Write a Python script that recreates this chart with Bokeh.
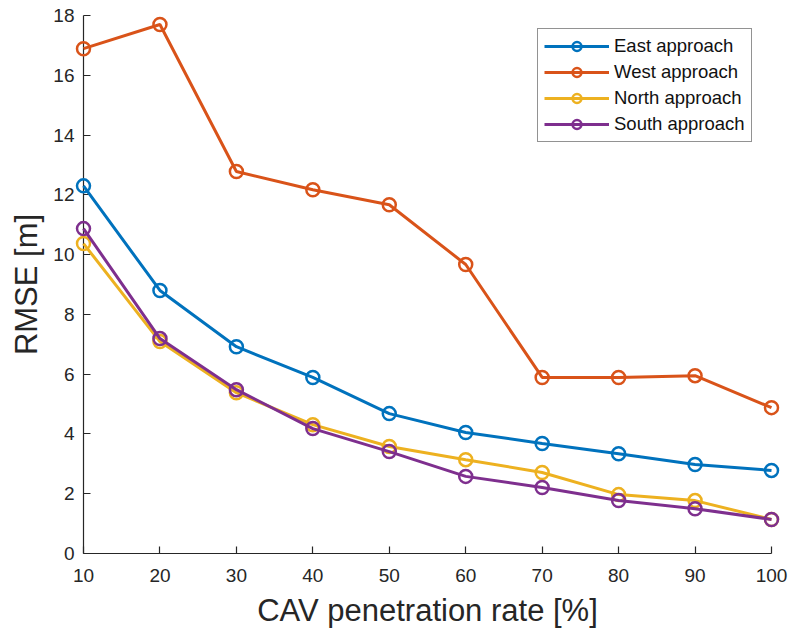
from bokeh.plotting import figure
from bokeh.models import Range1d, Legend, LegendItem, FixedTicker
from bokeh.embed import file_html
from bokeh.resources import INLINE

rate = [10, 20, 30, 40, 50, 60, 70, 80, 90, 100]
east = [12.3, 8.8, 6.92, 5.89, 4.68, 4.05, 3.68, 3.34, 2.98, 2.78]
west = [16.89, 17.7, 12.78, 12.17, 11.67, 9.67, 5.89, 5.89, 5.95, 4.88]
north = [10.37, 7.09, 5.38, 4.31, 3.58, 3.14, 2.71, 1.97, 1.77, 1.14]
south = [10.87, 7.19, 5.48, 4.18, 3.41, 2.58, 2.21, 1.77, 1.50, 1.14]
series = [("East approach", east, "#0072BD"),
          ("West approach", west, "#D95319"),
          ("North approach", north, "#EDB120"),
          ("South approach", south, "#7E2F8E")]
x_ticks = [10, 20, 30, 40, 50, 60, 70, 80, 90, 100]
y_ticks = [0, 2, 4, 6, 8, 10, 12, 14, 16, 18]

FONT = "Liberation Sans"
AX = "#262626"

p = figure(width=793, height=634, output_backend="svg", toolbar_location=None,
           x_range=Range1d(10, 100), y_range=Range1d(0, 18))
p.min_border_left = 83
p.min_border_right = 22
p.min_border_top = 15
p.min_border_bottom = 81
p.outline_line_color = None
p.grid.visible = False
p.background_fill_color = "white"

for ax, ticks, label in [(p.xaxis[0], x_ticks, "CAV penetration rate [%]"),
                         (p.yaxis[0], y_ticks, "RMSE [m]")]:
    ax.ticker = FixedTicker(ticks=ticks)
    ax.axis_label = label
    ax.axis_label_text_font = FONT
    ax.axis_label_text_font_size = "31px"
    ax.axis_label_text_font_style = "normal"
    ax.axis_label_text_color = AX
    ax.major_label_text_font = FONT
    ax.major_label_text_font_size = "19px"
    ax.major_label_text_color = AX
    ax.axis_line_color = AX
    ax.axis_line_width = 1.2
    ax.major_tick_line_color = AX
    ax.major_tick_line_width = 1.2
    ax.major_tick_in = 7
    ax.major_tick_out = 0
    ax.minor_tick_line_color = None

p.xaxis[0].major_label_standoff = 15
p.xaxis[0].axis_label_standoff = 8
p.yaxis[0].major_label_standoff = 9
p.yaxis[0].axis_label_standoff = 6

items = []
for name, vals, color in series:
    r1 = p.line(rate, vals, line_color=color, line_width=3, level="overlay")
    r2 = p.scatter(rate, vals, marker="circle", size=13, line_color=color,
                   line_width=2.5, fill_color=None, level="overlay")
    items.append(LegendItem(label=name, renderers=[r1, r2]))

legend = Legend(items=items, location=(454, 411))
legend.label_text_font = FONT
legend.label_text_font_size = "18.5px"
legend.label_text_color = "#111111"
legend.glyph_width = 65
legend.glyph_height = 22
legend.label_height = 22
legend.spacing = 4
legend.padding = 6
legend.margin = 0
legend.border_line_color = AX
legend.border_line_width = 1.2
legend.background_fill_alpha = 1
p.add_layout(legend, "center")

open("out.html", "w").write(file_html(p, INLINE))
